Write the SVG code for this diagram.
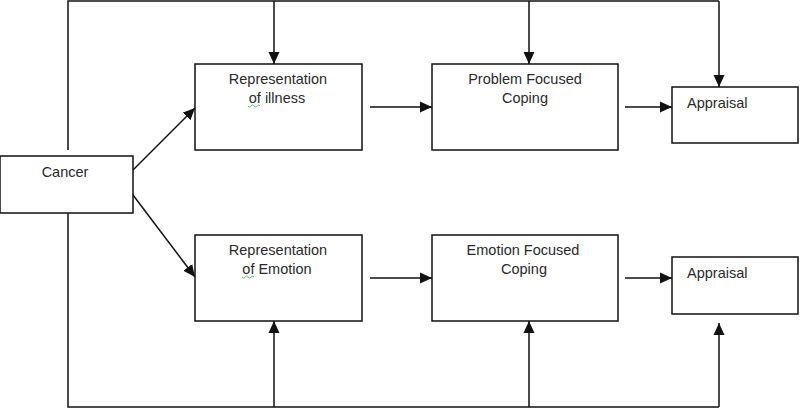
<svg xmlns="http://www.w3.org/2000/svg" width="800" height="409" viewBox="0 0 800 409">
<style>
.box{fill:#fff;stroke:#111;stroke-width:1.5}
.ln{fill:none;stroke:#111;stroke-width:1.5}
.t{font-family:"Liberation Sans",Arial,sans-serif;font-size:14.5px;fill:#2a2a2a}
.sq{fill:none;stroke:#5cb85c;stroke-width:0.9}
</style>
<defs>
<marker id="ah" markerWidth="12" markerHeight="12" viewBox="0 0 12 12" refX="12" refY="6" orient="auto" markerUnits="userSpaceOnUse">
<path d="M0,0.5 L12,6 L0,11.5 Z" fill="#111"/>
</marker>
</defs>
<rect width="800" height="409" fill="#fff"/>
<g id="connectors">
<polyline class="ln" points="68,150 68,1 719,1"/>
<line class="ln" x1="274" y1="1" x2="274" y2="64" marker-end="url(#ah)"/>
<line class="ln" x1="529" y1="1" x2="529" y2="64" marker-end="url(#ah)"/>
<line class="ln" x1="719" y1="1" x2="719" y2="87" marker-end="url(#ah)"/>
<polyline class="ln" points="68,213 68,407 719,407"/>
<line class="ln" x1="274" y1="407" x2="274" y2="321" marker-end="url(#ah)"/>
<line class="ln" x1="529" y1="407" x2="529" y2="321" marker-end="url(#ah)"/>
<line class="ln" x1="719" y1="407" x2="719" y2="323" marker-end="url(#ah)"/>
<line class="ln" x1="133" y1="170" x2="195" y2="108" marker-end="url(#ah)"/>
<line class="ln" x1="133" y1="195" x2="195" y2="277" marker-end="url(#ah)"/>
<line class="ln" x1="370" y1="107" x2="432" y2="107" marker-end="url(#ah)"/>
<line class="ln" x1="625" y1="107" x2="672" y2="107" marker-end="url(#ah)"/>
<line class="ln" x1="370" y1="278" x2="432" y2="278" marker-end="url(#ah)"/>
<line class="ln" x1="625" y1="278" x2="672" y2="278" marker-end="url(#ah)"/>
</g>
<g id="cancer">
<rect class="box" x="0" y="156" width="133" height="57"/>
<text class="t" x="65" y="177" text-anchor="middle">Cancer</text>
</g>
<g id="rep-illness">
<rect class="box" x="195" y="64" width="167" height="86"/>
<text class="t" x="278" y="84" text-anchor="middle">Representation</text>
<text class="t" x="277" y="103" text-anchor="middle">of illness</text>
<path class="sq" d="M248,106 q1.5,2 3,0 t3,0 t3,0 t3,0"/>
</g>
<g id="problem-coping">
<rect class="box" x="432" y="64" width="186" height="86"/>
<text class="t" x="525" y="84" text-anchor="middle">Problem Focused</text>
<text class="t" x="525" y="103" text-anchor="middle">Coping</text>
</g>
<g id="appraisal-top">
<rect class="box" x="672" y="87" width="126" height="56"/>
<text class="t" x="687" y="108">Appraisal</text>
</g>
<g id="rep-emotion">
<rect class="box" x="195" y="235" width="167" height="86"/>
<text class="t" x="278" y="255" text-anchor="middle">Representation</text>
<text class="t" x="277" y="274" text-anchor="middle">of Emotion</text>
<path class="sq" d="M242,277 q1.5,2 3,0 t3,0 t3,0 t3,0"/>
</g>
<g id="emotion-coping">
<rect class="box" x="432" y="235" width="186" height="86"/>
<text class="t" x="523" y="255" text-anchor="middle">Emotion Focused</text>
<text class="t" x="524" y="274" text-anchor="middle">Coping</text>
</g>
<g id="appraisal-bottom">
<rect class="box" x="672" y="257" width="126" height="57"/>
<text class="t" x="687" y="278">Appraisal</text>
</g>
</svg>
